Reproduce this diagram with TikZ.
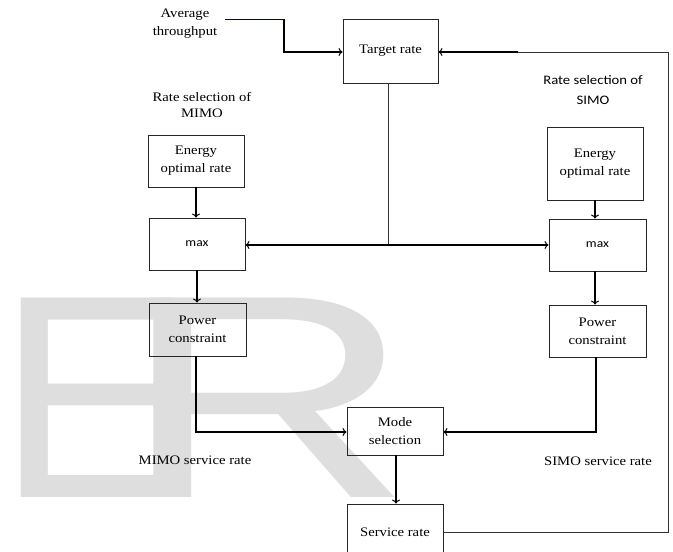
\documentclass[tikz,border=0pt]{standalone}
\usepackage{fontspec}
\setmainfont{Liberation Serif}[FakeStretch=1.13]
\newfontfamily\calib{Carlito}[FakeStretch=1.13]
\newfontfamily\wmfont{Liberation Sans}
\usetikzlibrary{arrows.meta}
\definecolor{wmgray}{RGB}{222,222,222}
\begin{document}
\begin{tikzpicture}[x=1pt,y=-1pt,
  box/.style={draw=black!85,line width=0.9pt,inner sep=0pt,align=center,font=\fontsize{13}{18}\selectfont},
  lbl/.style={inner sep=0pt,align=center,font=\fontsize{13}{18}\selectfont},
  conn/.style={line width=1.4pt,-{To[length=4pt,width=8pt,line width=1pt]}},
  thin/.style={line width=0.9pt,draw=black!80}]
\useasboundingbox (0,0) rectangle (673,552);
\fill[white] (0,0) rectangle (673,552);
% watermark
\node[anchor=base west,inner sep=0pt,text=wmgray,font=\wmfont\fontsize{290}{290}\selectfont] (wmE) at (-3,497) {E};
\node[anchor=base west,inner sep=0pt,text=wmgray,font=\wmfont\fontsize{290}{290}\selectfont] (wmR) at (120,497) {\scalebox{1.4}[1]{R}};
% nodes
\node[lbl] (avg) at (185,24) {Average\\throughput};
\node[box,minimum width=95pt,minimum height=64pt] (target) at (390.5,51) {Target rate};
\node[lbl,font=\fontsize{13}{16}\selectfont] (mimolbl) at (202,105) {Rate selection of\\MIMO};
\node[lbl,font=\calib\fontsize{13}{20}\selectfont] (simolbl) at (593,90) {Rate selection of\\SIMO};
\node[box,minimum width=96pt,minimum height=52pt] (e1) at (196,161) {Energy\\optimal rate};
\node[box,minimum width=96pt,minimum height=52pt,font=\calib\fontsize{12}{14}\selectfont] (m1) at (197,244) {max};
\node[box,minimum width=97pt,minimum height=53pt] (p1) at (197.5,329.5) {Power\\constraint};
\node[box,minimum width=96pt,minimum height=73pt] (e2) at (595,163.5) {Energy\\optimal rate};
\node[box,minimum width=97pt,minimum height=52pt,font=\calib\fontsize{12}{14}\selectfont] (m2) at (597.5,245) {max};
\node[box,minimum width=97pt,minimum height=52pt] (p2) at (597.5,331) {Power\\constraint};
\node[box,minimum width=96pt,minimum height=48pt] (mode) at (395,431) {Mode\\selection};
\node[box,minimum width=96pt,minimum height=56pt] (serv) at (395,532) {Service rate};
\node[lbl] (mimosr) at (195,460) {MIMO service rate};
\node[lbl] (simosr) at (598,461) {SIMO service rate};
% coordinates
\coordinate (avgstart) at (225,19);
\coordinate (avgbend) at (284,19);
\coordinate (junc) at (388,245);
\coordinate (fbcorner) at (668,532);
\coordinate (fbtop) at (668,52);
\coordinate (fbmid) at (518,52);
% connectors
\draw[thin,draw=black!70!blue] (avgstart) -- (avgbend);
\draw[conn] (avgbend) -- (avgbend |- 0,52) -- (target.west |- 0,52);
\draw[thin] (target.south -| junc) -- (junc);
\draw[conn] (junc) -- (m1.east |- junc);
\draw[conn] (junc) -- (m2.west |- junc);
\draw[conn] (e1.south) -- (e1.south |- m1.north);
\draw[conn] (m1.south) -- (m1.south |- p1.north);
\draw[conn] (e2.south) -- (e2.south |- m2.north);
\draw[conn] (m2.south -| 595,0) -- (595,0 |- p2.north);
\draw[conn] (p1.south -| 196,0) -- (196,432) -- (mode.west |- 0,432);
\draw[conn] (p2.south -| 596,0) -- (596,432) -- (mode.east |- 0,432);
\draw[conn,line width=1.2pt] (mode.south -| 396,0) -- (396,0 |- serv.north);
\draw[thin] (serv.east) -- (fbcorner) -- (fbtop) -- (fbmid);
\draw[conn] (fbmid) -- (target.east |- fbmid);
\end{tikzpicture}
\end{document}
